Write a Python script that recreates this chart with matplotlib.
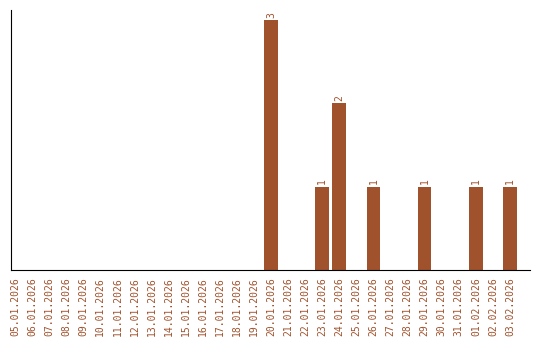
import matplotlib
matplotlib.use("Agg")
import matplotlib.pyplot as plt

dates = ["05.01.2026", "06.01.2026", "07.01.2026", "08.01.2026", "09.01.2026",
         "10.01.2026", "11.01.2026", "12.01.2026", "13.01.2026", "14.01.2026",
         "15.01.2026", "16.01.2026", "17.01.2026", "18.01.2026", "19.01.2026",
         "20.01.2026", "21.01.2026", "22.01.2026", "23.01.2026", "24.01.2026",
         "25.01.2026", "26.01.2026", "27.01.2026", "28.01.2026", "29.01.2026",
         "30.01.2026", "31.01.2026", "01.02.2026", "02.02.2026", "03.02.2026"]
counts = [0, 0, 0, 0, 0, 0, 0, 0, 0, 0, 0, 0, 0, 0, 0,
          3, 0, 0, 1, 2, 0, 1, 0, 0, 1, 0, 0, 1, 0, 1]

color = "#A0522D"
plt.rcParams['font.family'] = ['DejaVu Sans Mono']

fig = plt.figure(figsize=(5.4, 3.4), dpi=100)
ax = fig.add_axes([11 / 540, 70 / 340, 519 / 540, 260 / 340])

x = range(len(dates))
ax.bar(x, counts, width=0.8, color=color)
for i, c in enumerate(counts):
    if c > 0:
        ax.text(i, c + 0.03, str(c), rotation=90, ha='center', va='bottom',
                fontsize=7, color=color)

ax.set_xlim(-0.23, 30.17)
ax.set_ylim(0, 3.12)
ax.set_xticks(list(x))
ax.set_xticklabels(dates, rotation=90, fontsize=7, color=color)
ax.tick_params(axis='x', length=0, pad=5)
ax.set_yticks([])
ax.spines['top'].set_visible(False)
ax.spines['right'].set_visible(False)

fig.savefig("out.png", dpi=100)
